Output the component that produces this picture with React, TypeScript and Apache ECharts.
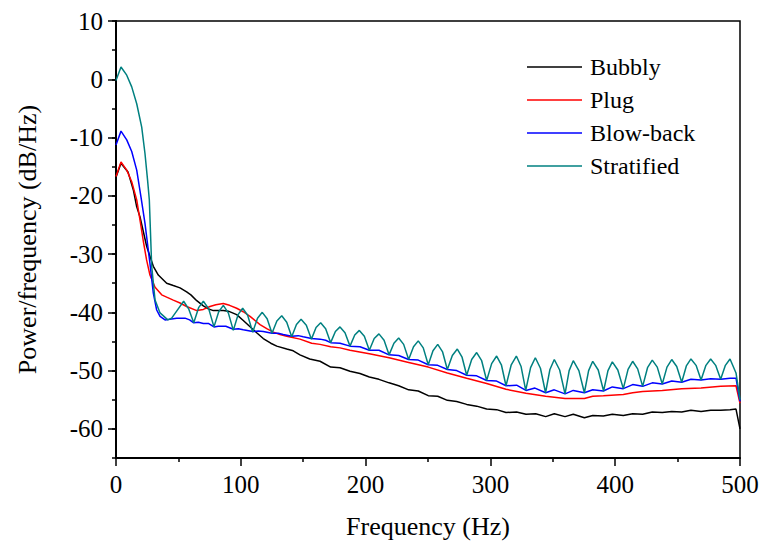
import React, { useEffect, useRef } from "react";
import * as echarts from "echarts";

const seriesNames = ["Bubbly", "Plug", "Blow-back", "Stratified"];
const seriesColors = ["#000000", "#ff0000", "#0000ff", "#008080"];

const bubbly: [number, number][] = [
  [0, -16.8], [4, -14.4], [9.6, -15.9], [13.9, -19.0], [16.6, -21.9], [19.2, -23.6], [24.6, -28.7],
  [29.9, -32.1], [33.9, -33.6], [40.6, -35.0], [45.9, -35.4], [51.3, -35.8], [56.6, -36.5], [60, -37.0],
  [64.7, -38.0], [70, -38.9], [74, -39.4], [78, -39.7], [86, -39.7], [90, -39.8], [96.7, -40.4],
  [102, -41.4], [107, -42.4], [112.7, -43.5], [118, -44.5], [124, -45.3], [128.8, -45.8], [136.8, -46.3],
  [142, -46.6], [147.4, -47.3], [155.2, -48.0], [163.5, -48.4], [172, -49.4], [179.5, -49.5], [187.5, -50.1],
  [195.5, -50.5], [203, -51.1], [210.7, -51.5], [218.8, -52.1], [226.5, -52.6], [234.5, -53.3], [242.2, -53.5],
  [250.2, -54.3], [257.8, -54.4], [265.5, -55.1], [273, -55.3], [281, -55.8], [289, -56.1], [297, -56.6],
  [305, -56.7], [312.5, -57.2], [321, -57.1], [328.5, -57.5], [336.3, -57.4], [344.3, -57.9], [351.2, -57.4],
  [359.8, -57.9], [366.4, -57.5], [375.3, -58.1], [382, -57.7], [390.5, -57.8], [397.7, -57.5], [406.5, -57.7],
  [414, -57.4], [422, -57.5], [429.7, -57.1], [437.7, -57.2], [445.3, -57.0], [453.3, -57.1], [460.7, -56.8],
  [468.8, -57.0], [476.5, -56.8], [484.5, -56.8], [492, -56.7], [496.8, -56.6], [500, -60.0],
];

const plug: [number, number][] = [
  [0, -16.7], [4, -14.2], [8.6, -15.6], [12.6, -17.6], [16.6, -20.7], [19.5, -24.5], [21.9, -27.8],
  [24.5, -31.0], [27.2, -33.6], [31.3, -35.7], [36.6, -37.0], [40.6, -37.4], [45.9, -37.9], [51.3, -38.4],
  [56.6, -39.0], [64.7, -39.7], [70, -39.5], [75.3, -39.0], [80, -38.7], [86, -38.5], [91, -38.8],
  [96.7, -39.3], [102, -39.9], [107.4, -40.7], [115.4, -42.1], [120.8, -42.8], [126, -43.4], [131.4, -43.8],
  [136.8, -44.1], [147.4, -44.6], [156.8, -45.3], [163.5, -45.5], [172, -45.9], [179.5, -46.1], [187.5, -46.5],
  [203, -47.1], [218.8, -47.8], [234.5, -48.6], [250.2, -49.4], [265.5, -50.4], [281, -51.3], [297, -52.2],
  [312.5, -53.2], [328.5, -53.9], [344.3, -54.4], [359.8, -54.8], [375.3, -54.8], [382, -54.4], [390.5, -54.3],
  [406.5, -54.1], [414, -53.8], [422, -53.6], [437.7, -53.4], [453.3, -53.1], [468.8, -53.0], [484.5, -52.7],
  [496.8, -52.6], [500, -55.6],
];

const blowBack: [number, number][] = [
  [0, -11.3], [4, -8.9], [8.6, -10.4], [12.6, -12.4], [16.6, -15.6], [20, -20.2], [23.2, -24.7],
  [27.2, -31.6], [29.9, -36.7], [32.6, -39.6], [35.3, -40.7], [39.3, -41.3], [43, -41.2], [48.6, -41.0],
  [55.3, -41.0], [59, -41.3], [62.3, -41.8], [66, -41.7], [70, -41.9], [74, -41.9], [78.5, -42.5],
  [82, -42.4], [88, -42.4], [94, -42.9], [98, -42.8], [102, -43.0], [109.5, -43.3], [114, -43.2],
  [118, -43.3], [125, -43.6], [130, -43.6], [134, -43.8], [140.8, -44.1], [146, -44.0], [150, -44.2],
  [156.6, -44.5], [163.5, -44.6], [168, -44.8], [172, -45.2], [179.5, -45.3], [187.5, -45.8], [195.5, -45.9],
  [203, -46.5], [210.7, -46.5], [218.8, -47.3], [226.5, -47.4], [234.5, -48.1], [242.2, -48.2], [250.2, -49.0],
  [257.8, -49.1], [265.5, -49.8], [273, -50.0], [281, -50.8], [289, -50.9], [297, -51.7], [305, -51.8],
  [312.5, -52.6], [321, -52.5], [328.5, -53.4], [335.7, -53.0], [344.3, -53.8], [351.2, -53.3], [359.8, -54.0],
  [366.4, -53.4], [375.3, -53.8], [382, -53.3], [390.5, -53.5], [397.7, -52.8], [406.5, -53.1], [414, -52.4],
  [422, -52.7], [429.7, -52.1], [437.7, -52.3], [445.3, -51.8], [453.3, -52.0], [460.7, -51.5], [468.8, -51.6],
  [476.5, -51.4], [484.5, -51.5], [492, -51.3], [496.8, -51.3], [500, -55.3],
];

const stratified: [number, number][] = [
  [0, -0.2], [4, 2.1], [8.6, 0.7], [12.6, -1.3], [16.6, -4.2], [20.6, -8.2], [23.2, -12.7], [25.3, -17.3],
  [26.7, -20.7], [28.6, -32.1], [31.3, -37.9], [35.3, -40.1], [41.5, -41.3], [44.6, -41.0], [48.6, -39.8],
  [54.2, -38.1], [58.2, -39.4], [62.3, -41.8], [66.2, -39.2], [70, -38.1], [74.3, -39.4], [78.5, -42.5],
  [82.3, -39.9], [86, -38.8], [90, -40.1], [94, -43.1], [97.8, -40.4], [101.5, -39.3], [105.5, -40.5],
  [109.5, -43.4], [113.4, -41.0], [117.2, -40.0], [121.1, -41.1], [125, -43.6], [128.9, -41.5], [132.8, -40.6],
  [136.8, -41.7], [140.8, -44.2], [144.6, -42.1], [148.3, -41.2], [152.5, -42.2], [156.6, -44.6], [160.3, -42.6],
  [164, -41.8], [168, -42.8], [172, -45.2], [175.8, -43.3], [179.5, -42.5], [183.5, -43.5], [187.5, -45.8],
  [191.3, -43.9], [195, -43.1], [199, -44.1], [203, -46.5], [206.9, -44.5], [210.7, -43.7], [214.8, -44.8],
  [218.8, -47.3], [222.7, -45.3], [226.5, -44.4], [230.5, -45.5], [234.5, -48.1], [238.4, -45.9], [242.2, -44.9],
  [246.2, -46.1], [250.2, -49.0], [254, -46.6], [257.8, -45.5], [261.7, -46.8], [265.5, -49.8], [269.5, -47.4],
  [273.5, -46.3], [277.3, -47.7], [281, -50.8], [285, -48.1], [289, -46.9], [293, -48.3], [297, -51.7],
  [301, -48.8], [305, -47.5], [308.8, -49.0], [312.5, -52.6], [316.7, -49.0], [320.8, -47.5], [324.6, -49.3],
  [328.3, -53.4], [332.2, -49.5], [336, -47.8], [340.1, -49.6], [344.2, -53.8], [347.7, -49.8], [351.2, -48.1],
  [355.5, -49.9], [359.8, -54.0], [363.1, -50.0], [366.4, -48.3], [370.9, -50.0], [375.3, -53.8], [378.7, -50.0],
  [382, -48.4], [386.4, -49.9], [390.7, -53.5], [394.2, -50.0], [397.7, -48.5], [402.1, -49.9], [406.5, -53.1],
  [410.3, -49.8], [414, -48.4], [418, -49.7], [422, -52.7], [425.9, -49.5], [429.7, -48.2], [433.7, -49.4],
  [437.7, -52.3], [441.5, -49.4], [445.3, -48.1], [449.3, -49.3], [453.3, -52.0], [457, -49.2], [460.7, -48.0],
  [464.8, -49.1], [468.8, -51.6], [472.7, -49.1], [476.5, -48.0], [480.5, -49.1], [484.5, -51.5], [488.3, -49.1],
  [492, -48.0], [496.8, -50.4], [500, -55.0],
];

const seriesData = [bubbly, plug, blowBack, stratified];
const yMajorTicks = [-60, -50, -40, -30, -20, -10, 0, 10];

const FONT = "Liberation Serif";

export default function App() {
  const ref = useRef<HTMLDivElement>(null);

  useEffect(() => {
    if (!ref.current) return;
    const chart = echarts.init(ref.current, undefined, { renderer: "svg" });
    const axisLineStyle = { color: "#000", width: 2 };
    const option: any = {
      animation: false,
      backgroundColor: "#ffffff",
      textStyle: { fontFamily: FONT },
      grid: {
        left: 116,
        right: 23,
        top: 21,
        bottom: 88,
        show: true,
        borderColor: "#000",
        borderWidth: 1.5,
        backgroundColor: "transparent",
      },
      legend: {
        orient: "vertical",
        left: 522,
        top: 50,
        icon: "rect",
        itemWidth: 55,
        itemHeight: 1.5,
        itemGap: 9,
        data: seriesNames,
        textStyle: { fontFamily: FONT, fontSize: 24, color: "#000", padding: [0, 0, 0, 3] },
      },
      xAxis: {
        type: "value",
        min: 0,
        max: 500,
        interval: 100,
        name: "Frequency (Hz)",
        nameLocation: "middle",
        nameGap: 55,
        nameTextStyle: { fontFamily: FONT, fontSize: 26, color: "#000" },
        axisLine: { show: true, onZero: false, lineStyle: axisLineStyle },
        axisTick: { show: true, inside: false, length: 8, lineStyle: { color: "#000", width: 1.5 } },
        minorTick: { show: true, splitNumber: 2, length: 4, lineStyle: { color: "#000", width: 1.5 } },
        axisLabel: { fontFamily: FONT, fontSize: 25, color: "#000", margin: 14 },
        splitLine: { show: false },
        minorSplitLine: { show: false },
      },
      yAxis: [
        {
          type: "value",
          min: -65,
          max: 10,
          interval: 5,
          name: "Power/frequency (dB/Hz)",
          nameLocation: "middle",
          nameGap: 76,
          nameRotate: 90,
          nameTextStyle: { fontFamily: FONT, fontSize: 26, color: "#000" },
          axisLine: { show: true, onZero: false, lineStyle: axisLineStyle },
          axisTick: { show: true, inside: false, length: 4, lineStyle: { color: "#000", width: 1.5 } },
          axisLabel: {
            fontFamily: FONT,
            fontSize: 25,
            color: "#000",
            margin: 13,
            formatter: (v: number) => (v % 10 === 0 ? String(v) : ""),
          },
          splitLine: { show: false },
        },
        {
          type: "value",
          min: -65,
          max: 10,
          position: "left",
          axisLine: { show: true, onZero: false, lineStyle: axisLineStyle },
          axisTick: {
            show: true,
            inside: false,
            length: 8,
            customValues: yMajorTicks,
            lineStyle: { color: "#000", width: 1.5 },
          },
          axisLabel: { show: false },
          splitLine: { show: false },
        },
      ],
      series: seriesNames.map((name, i) => ({
        name,
        type: "line",
        yAxisIndex: 0,
        data: seriesData[i],
        showSymbol: false,
        symbol: "none",
        color: seriesColors[i],
        itemStyle: { color: seriesColors[i] },
        lineStyle: { color: seriesColors[i], width: 1.5 },
        z: 2 + i,
      })),
    };
    chart.setOption(option);
    return () => chart.dispose();
  }, []);

  return (
    <div
      ref={ref}
      style={{ position: "fixed", left: 0, top: 0, width: 763, height: 546, background: "#fff" }}
    />
  );
}
